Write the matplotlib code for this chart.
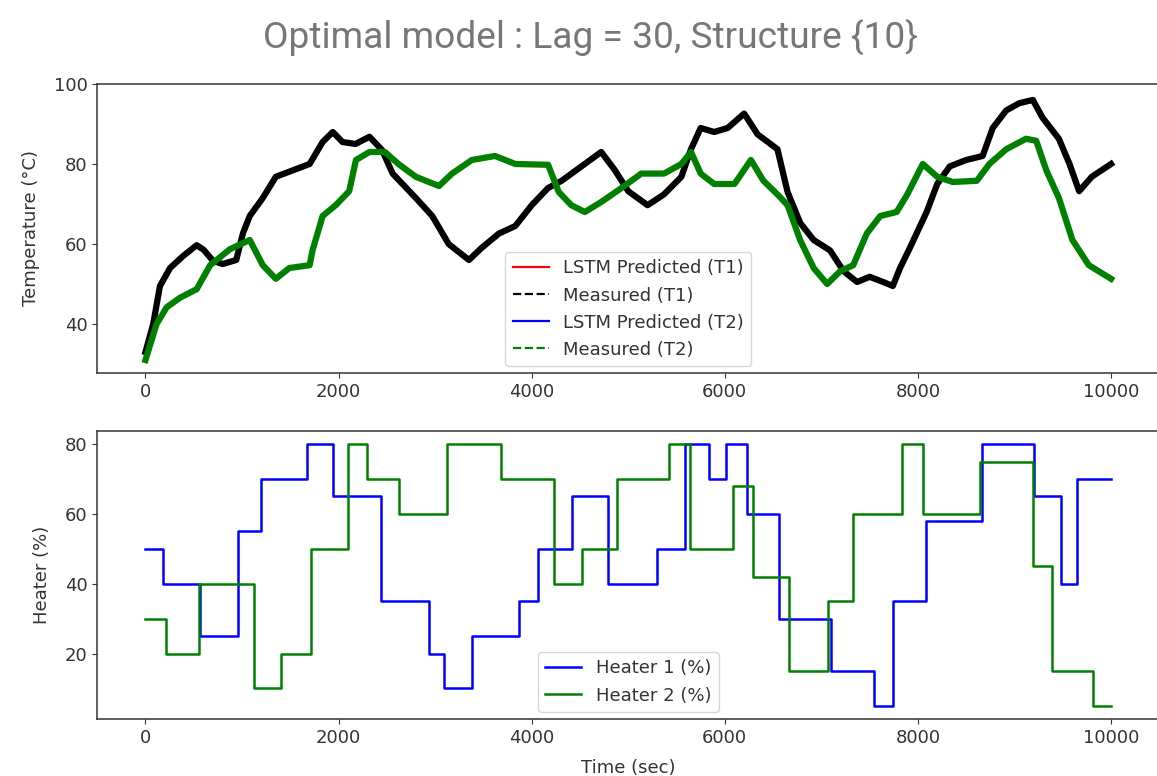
import numpy as np
import matplotlib
matplotlib.use('Agg')
import matplotlib.pyplot as plt
from matplotlib.lines import Line2D

# temperatures (sec, degC)
t1_time = [0, 80, 150, 255, 390, 530, 600, 700, 800, 940, 1010, 1080, 1215, 1350, 1525,
           1700, 1835, 1940, 2040, 2175, 2320, 2450, 2560, 2800, 2970, 3140, 3350, 3480,
           3660, 3830, 4000, 4170, 4310, 4515, 4720, 4860, 5000, 5200, 5370, 5550, 5650,
           5750, 5890, 6030, 6200, 6340, 6545, 6650, 6780, 6920, 7090, 7230, 7370, 7500,
           7640, 7740, 7815, 7920, 8090, 8200, 8330, 8500, 8670, 8775, 8915, 9050, 9190,
           9290, 9460, 9570, 9670, 9800, 10000]
t1_meas = [33, 40, 49.5, 54, 57, 59.7, 58.6, 55.8, 55, 56, 62.7, 67, 71.5, 76.8, 78.4,
           80, 85.5, 88, 85.5, 85, 86.8, 83.5, 77.6, 71.5, 67, 60, 56, 59,
           62.6, 64.5, 69.7, 74, 75.8, 79.4, 83, 78.5, 73.2, 69.7, 72.4, 76.8, 83.7,
           89, 88, 89, 92.6, 87.4, 83.7, 73, 65.3, 61, 58.4, 53.2, 50.5, 51.8,
           50.5, 49.5, 54, 59.2, 68, 75, 79.4, 81, 82, 89, 93.4, 95.2, 96,
           91.6, 86.3, 80, 73.2, 76.8, 80]

t2_time = [0, 115, 220, 360, 530, 670, 875, 1080, 1215, 1350, 1490, 1700, 1730, 1835,
           1970, 2110, 2180, 2320, 2480, 2620, 2800, 3040, 3175, 3380, 3620, 3830, 4170,
           4280, 4410, 4550, 4720, 4930, 5135, 5370, 5550, 5650, 5750, 5890, 6100, 6270,
           6400, 6545, 6650, 6780, 6920, 7060, 7195, 7330, 7470, 7610, 7780, 7890, 8050,
           8200, 8360, 8610, 8740, 8915, 9120, 9225, 9330, 9460, 9600, 9770, 10000]
t2_meas = [31, 40, 44.2, 46.6, 48.7, 54.7, 58.7, 61, 54.7, 51.3, 54, 54.7, 58.4, 67,
           69.7, 73.2, 81, 83, 83, 80, 76.8, 74.5, 77.6, 81, 82, 80, 79.8,
           73, 69.7, 68, 70.5, 74, 77.6, 77.6, 80, 83, 77.6, 75, 75, 81,
           75.8, 72.4, 69.7, 61, 54, 50, 53.2, 54.7, 62.6, 67, 68, 72.4, 80,
           76.8, 75.5, 75.8, 80, 83.7, 86.3, 85.8, 78.4, 71.5, 61, 54.7, 51.3]

# heater steps (switch time, new value)
q1_time = [0, 180, 565, 960, 1200, 1670, 1940, 2440, 2935, 3090, 3380, 3865, 4070, 4420,
           4790, 5300, 5590, 5835, 6010, 6235, 6560, 7100, 7550, 7745, 8080, 8665, 9205,
           9485, 9650, 10000]
q1_vals = [50, 40, 25, 55, 70, 80, 65, 35, 20, 10, 25, 35, 50, 65,
           40, 50, 80, 70, 80, 60, 30, 15, 5, 35, 58, 80, 65,
           40, 70, 70]
q2_time = [0, 210, 555, 1120, 1400, 1715, 2100, 2290, 2630, 3125, 3680, 4235, 4525, 4885,
           5420, 5640, 6090, 6290, 6660, 7070, 7330, 7835, 8050, 8640, 9195, 9390, 9815,
           10000]
q2_vals = [30, 20, 40, 10, 20, 50, 80, 70, 60, 80, 70, 40, 50, 70,
           80, 50, 68, 42, 15, 35, 60, 80, 60, 75, 45, 15, 5,
           5]

plt.rcParams['font.size'] = 13
for k in ['text.color', 'axes.labelcolor', 'xtick.color', 'ytick.color', 'axes.edgecolor']:
    plt.rcParams[k] = '#333333'
plt.rcParams['axes.linewidth'] = 1.1

fig = plt.figure(figsize=(11.57, 7.76), dpi=100)
ax1 = fig.add_axes([0.084, 0.5193, 0.918, 0.3725])
ax2 = fig.add_axes([0.084, 0.0735, 0.918, 0.3711])

# top: temperatures
ax1.plot(t1_time, t1_meas, color='r', lw=1.5)
ax1.plot(t1_time, t1_meas, color='k', lw=4.5)
ax1.plot(t2_time, t2_meas, color='b', lw=1.5)
ax1.plot(t2_time, t2_meas, color='g', lw=4.5)
ax1.set_ylabel('Temperature (°C)', labelpad=10)
ax1.set_xticks([0, 2000, 4000, 6000, 8000, 10000])
ax1.set_yticks([40, 60, 80, 100])
handles = [Line2D([], [], color='r', ls='-', lw=1.6),
           Line2D([], [], color='k', ls='--', lw=1.6),
           Line2D([], [], color='b', ls='-', lw=1.6),
           Line2D([], [], color='g', ls='--', lw=1.6)]
ax1.legend(handles, ['LSTM Predicted (T1)', 'Measured (T1)',
                     'LSTM Predicted (T2)', 'Measured (T2)'], loc='lower center',
           borderaxespad=0.4)

# bottom: heaters
ax2.step(q1_time, q1_vals, where='post', color='b', lw=1.8, label='Heater 1 (%)')
ax2.step(q2_time, q2_vals, where='post', color='g', lw=1.8, label='Heater 2 (%)')
ax2.set_ylabel('Heater (%)', labelpad=10)
ax2.set_xlabel('Time (sec)', labelpad=9)
ax2.set_xticks([0, 2000, 4000, 6000, 8000, 10000])
ax2.set_yticks([20, 40, 60, 80])
ax2.legend(loc='lower center', borderaxespad=0.4)

fig.text(0.51, 0.951, 'Optimal model : Lag = 30, Structure {10}', ha='center', va='center',
         family='Roboto', fontsize=26.7, color='#777777')

fig.savefig('out.png', dpi=100)
